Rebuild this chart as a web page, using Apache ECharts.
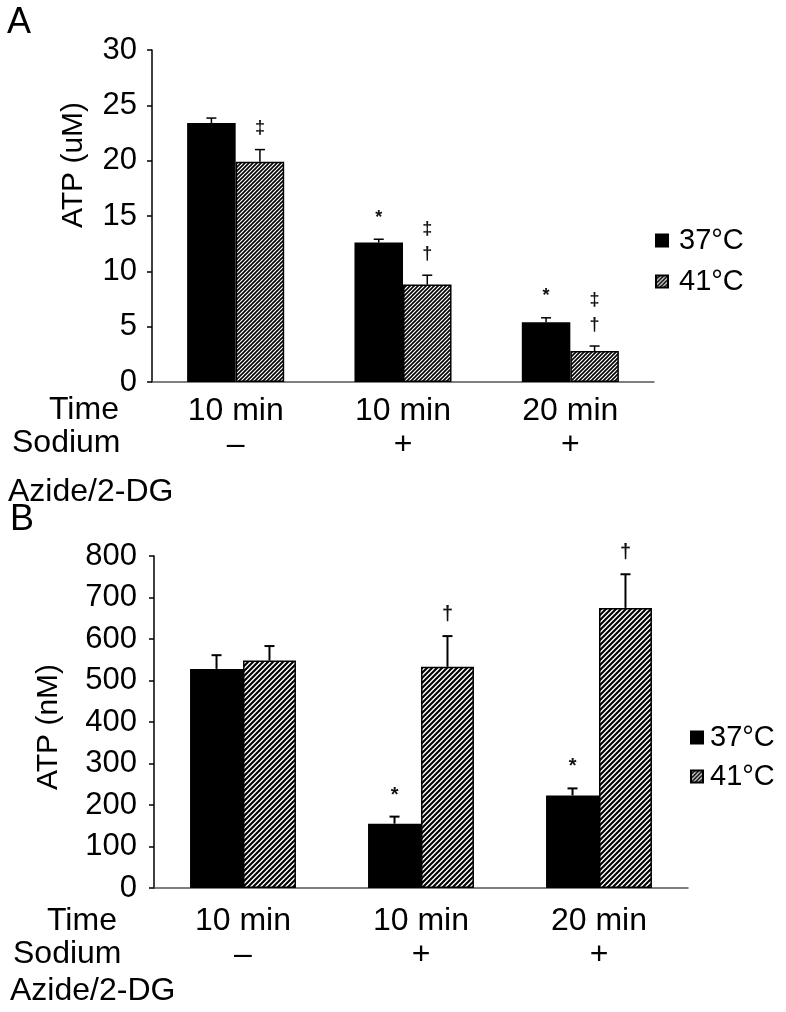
<!DOCTYPE html>
<html><head><meta charset="utf-8">
<script src="https://cdn.jsdelivr.net/npm/echarts@6/dist/echarts.min.js"></script>
<style>html,body{margin:0;padding:0;background:#fff}#c{width:786px;height:1012px}</style>
</head><body><div id="c"></div>
<script>
// ---------- data ----------
const timeLabels = ['10 min', '10 min', '20 min'];
const azideLabels = ['–', '+', '+'];
const seriesNames = ['37°C', '41°C'];
const ticksA = [0, 5, 10, 15, 20, 25, 30];
const ticksB = [0, 100, 200, 300, 400, 500, 600, 700, 800];
// Panel A: ATP (uM)
const atpA_37 = [23.4, 12.6, 5.4];
const atpA_41 = [19.9, 8.8, 2.8];
const errA_37 = [0.45, 0.3, 0.4];
const errA_41 = [1.1, 0.85, 0.45];
const sigA_37 = ['', '*', '*'];
const sigA_41 = ['‡', '‡\n†', '‡\n†'];
// Panel B: ATP (nM)
const atpB_37 = [528, 155, 223];
const atpB_41 = [548, 533, 675];
const errB_37 = [33, 17, 17];
const errB_41 = [35, 74, 81];
const sigB_37 = ['', '*', '*'];
const sigB_41 = ['', '†', '†'];

// ---------- helpers ----------
const FONT = '"Liberation Sans", Arial, Helvetica, sans-serif';
const categories = timeLabels.map((t, i) => t + ' ' + azideLabels[i] + ' #' + i);

function hatch(p, lw) {
  const c = document.createElement('canvas');
  c.width = p; c.height = p;
  const g = c.getContext('2d');
  g.fillStyle = '#fff'; g.fillRect(0, 0, p, p);
  g.strokeStyle = '#000'; g.lineWidth = lw; g.lineCap = 'square';
  g.beginPath();
  g.moveTo(0, p); g.lineTo(p, 0);
  g.moveTo(-1, 1); g.lineTo(1, -1);
  g.moveTo(p - 1, p + 1); g.lineTo(p + 1, p - 1);
  g.stroke();
  return { image: c, repeat: 'repeat' };
}
const hatchA = hatch(4, 1.6);
const hatchB = hatch(5, 2.1);

function errSeries(vals, errs, sigs, side, gapRatio, axis, lw, sigFont) {
  return {
    type: 'custom', xAxisIndex: axis, yAxisIndex: axis, z: 10, silent: true,
    data: vals.map((v, i) => [i, v, errs[i]]),
    renderItem: function (params, api) {
      const i = api.value(0), v = api.value(1), e = api.value(2);
      const band = api.size([1, 0])[0];
      const bw = band * (1 - gapRatio) / 2;
      const base = api.coord([i, v]);
      const top = api.coord([i, v + e]);
      const x = base[0] + side * bw / 2;
      const children = [
        { type: 'line', shape: { x1: x, y1: base[1], x2: x, y2: top[1] }, style: { stroke: '#000', lineWidth: lw } },
        { type: 'line', shape: { x1: x - 5, y1: top[1], x2: x + 5, y2: top[1] }, style: { stroke: '#000', lineWidth: lw } }
      ];
      const s = sigs[params.dataIndex];
      if (s) {
        children.push({ type: 'text', style: { text: s, x: x, y: top[1] - 9, align: 'center', verticalAlign: 'bottom',
          font: sigFont, fill: '#111', lineHeight: 25 } });
      }
      return { type: 'group', children: children };
    }
  };
}

const gapA = 0.42, gapB = 0.405;

function xAxis(gridIndex, margin) {
  return {
    type: 'category', gridIndex: gridIndex, data: categories,
    axisLine: { lineStyle: { color: '#555', width: 1.5 } },
    axisTick: { show: false },
    axisLabel: {
      interval: 0, margin: margin, color: '#000', fontFamily: FONT,
      formatter: (v, idx) => '{t|' + timeLabels[idx] + '}\n{s|' + azideLabels[idx] + '}',
      rich: {
        t: { fontSize: 32, lineHeight: 34, fontFamily: FONT, color: '#000' },
        s: { fontSize: 32, lineHeight: 34, fontFamily: FONT, color: '#000' }
      }
    }
  };
}
function yAxis(gridIndex, ticks, margin) {
  return {
    type: 'value', gridIndex: gridIndex,
    min: ticks[0], max: ticks[ticks.length - 1], interval: ticks[1] - ticks[0],
    axisLine: { show: true, lineStyle: { color: '#000', width: 1.5 } },
    axisTick: { show: true, length: 5, lineStyle: { color: '#000', width: 1.5 } },
    splitLine: { show: false },
    axisLabel: { fontSize: 31, color: '#000', fontFamily: FONT, margin: margin }
  };
}

const bar = (name, data, axis, color, gap) => ({
  name: name, type: 'bar', xAxisIndex: axis, yAxisIndex: axis, data: data,
  barGap: '0%', barCategoryGap: (gap * 100) + '%',
  itemStyle: { color: color, borderColor: '#000', borderWidth: 1.5 },
  silent: true
});

const txt = (text, x, y, size, extra) => Object.assign({
  type: 'text', x: x, y: y,
  style: { text: text, font: size + 'px ' + FONT, fill: '#000', align: 'left', verticalAlign: 'middle' }
}, extra || {});

const chart = echarts.init(document.getElementById('c'), null, { renderer: 'canvas' });
chart.setOption({
  backgroundColor: '#fff',
  animation: false,
  grid: [
    { left: 152, top: 50, width: 502, height: 332, containLabel: false, outerBoundsMode: 'none' },
    { left: 154, top: 556, width: 534, height: 332, containLabel: false, outerBoundsMode: 'none' }
  ],
  xAxis: [xAxis(0, 12), xAxis(1, 16)],
  yAxis: [yAxis(0, ticksA, 15), yAxis(1, ticksB, 17)],
  legend: [
    { orient: 'vertical', left: 650, top: 221, itemWidth: 12, itemHeight: 12, itemGap: 12, icon: 'rect',
      selectedMode: false, data: seriesNames,
      textStyle: { fontSize: 29, lineHeight: 28, color: '#000', fontFamily: FONT, padding: [0, 0, 0, 6] } },
    { orient: 'vertical', left: 685, top: 718, itemWidth: 12, itemHeight: 12, itemGap: 10, icon: 'rect',
      selectedMode: false, data: seriesNames,
      textStyle: { fontSize: 29, lineHeight: 28, color: '#000', fontFamily: FONT, padding: [0, 0, 0, 2] } }
  ],
  graphic: [
    txt('A', 7, 23, 36),
    txt('B', 10, 520, 36),
    txt('ATP (uM)', 74, 165, 30, { rotation: Math.PI / 2, style: { text: 'ATP (uM)', font: '30px ' + FONT, fill: '#000', align: 'center', verticalAlign: 'middle' } }),
    txt('ATP (nM)', 49, 727, 30, { rotation: Math.PI / 2, style: { text: 'ATP (nM)', font: '30px ' + FONT, fill: '#000', align: 'center', verticalAlign: 'middle' } }),
    txt('Time', 49, 410, 32),
    txt('Sodium', 12, 443, 32),
    txt('Azide/2-DG', 8, 492, 32),
    txt('Time', 47, 921, 32),
    txt('Sodium', 13, 954, 32),
    txt('Azide/2-DG', 10, 991, 32)
  ],
  series: [
    bar(seriesNames[0], atpA_37, 0, '#000', gapA),
    bar(seriesNames[1], atpA_41, 0, hatchA, gapA),
    bar(seriesNames[0], atpB_37, 1, '#000', gapB),
    bar(seriesNames[1], atpB_41, 1, hatchB, gapB),
    errSeries(atpA_37, errA_37, sigA_37, -1, gapA, 0, 1.5, 'bold 18px ' + FONT),
    errSeries(atpA_41, errA_41, sigA_41, 1, gapA, 0, 1.5, 'bold 18px ' + FONT),
    errSeries(atpB_37, errB_37, sigB_37, -1, gapB, 1, 2, 'bold 20px ' + FONT),
    errSeries(atpB_41, errB_41, sigB_41, 1, gapB, 1, 2, 'bold 20px ' + FONT)
  ]
});
</script></body></html>
